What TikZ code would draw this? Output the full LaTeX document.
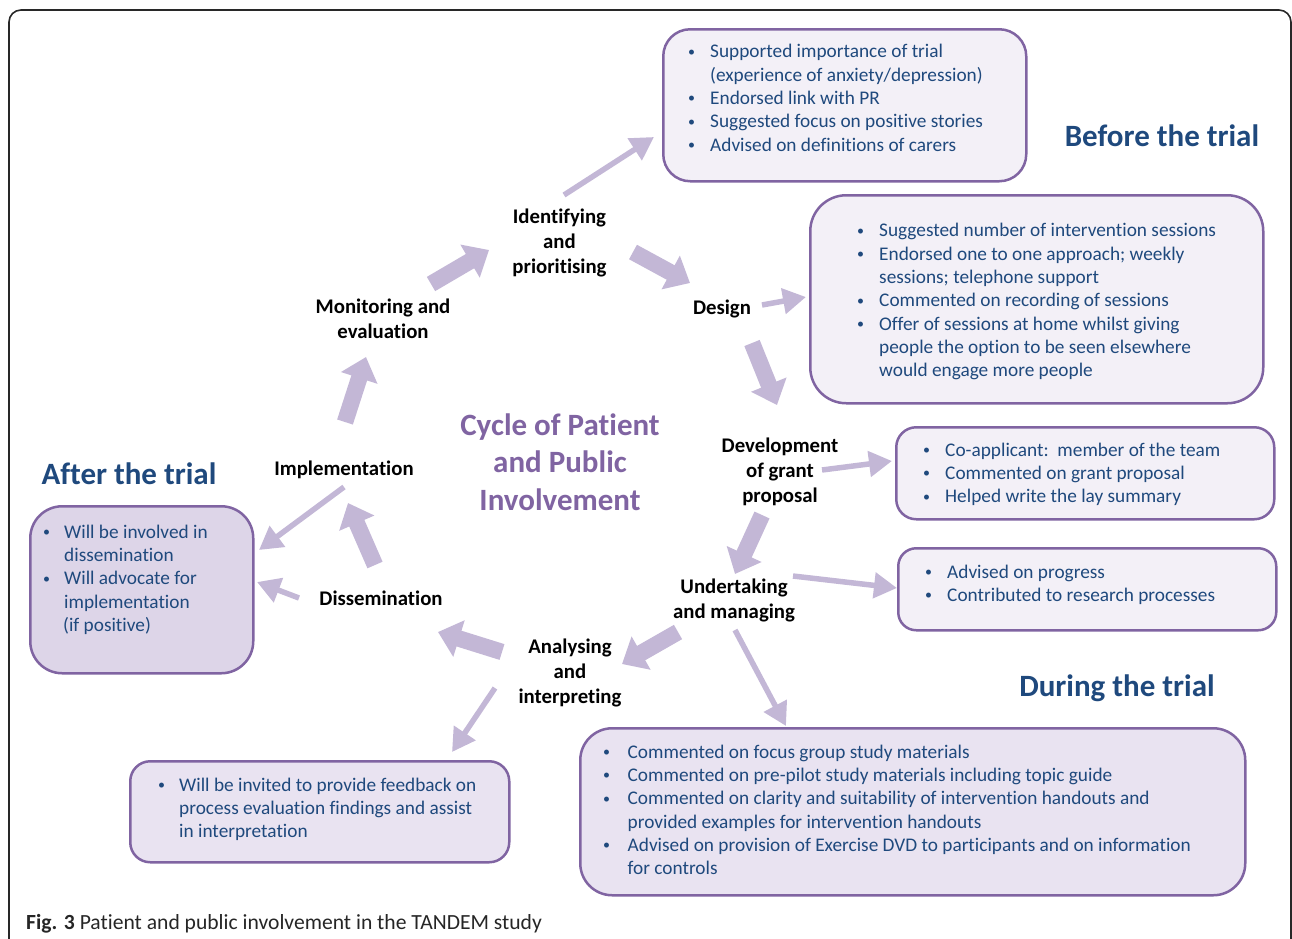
\documentclass[tikz,border=0pt]{standalone}
\usepackage{fontspec}
\setmainfont{Carlito}[Ligatures=NoCommon]
\usetikzlibrary{arrows.meta}
\definecolor{boxline}{RGB}{128,100,162}
\definecolor{txtblue}{RGB}{31,73,125}
\definecolor{fillA}{RGB}{243,240,247}
\definecolor{fillB}{RGB}{233,227,241}
\definecolor{fillC}{RGB}{221,213,232}
\definecolor{arrowc}{RGB}{195,183,214}
\definecolor{framec}{RGB}{40,40,40}
\newcommand{\bul}{\raisebox{1.6pt}{\fontsize{14}{14}\selectfont•}}
\newcommand{\bl}{\strut\makebox[22pt][l]{\bul}}
\newcommand{\ind}{\strut\hspace*{22pt}}
\begin{document}
\begin{tikzpicture}[x=1pt,y=-1pt,
  infobox/.style={draw=boxline, line width=2.5pt, anchor=north west, inner sep=0pt},
  boxtext/.style={anchor=north west, inner sep=0pt, align=left, text=txtblue,
    font=\fontsize{19.3}{23.3}\selectfont},
  steplabel/.style={align=center, inner sep=0pt, font=\bfseries\fontsize{20.8}{25}\selectfont},
  phase/.style={anchor=base, inner sep=0pt, text=txtblue, font=\bfseries\fontsize{31}{37}\selectfont},
  bigarrow/.style={draw=arrowc, line width=16.5pt, -{Triangle[width=37pt,length=22pt]}},
  thinarrow/.style={draw=arrowc, line width=5.5pt, -{Triangle[width=25pt,length=23pt]}}]
\useasboundingbox (0,0) rectangle (1292,938);
\begin{scope}
\clip (0,0) rectangle (1292,938);
\draw[framec, line width=1.6pt, rounded corners=12pt] (9,960) -- (9,10) -- (1291,10) -- (1291,960);
\end{scope}

% boxes
\node[infobox, fill=fillA, rounded corners=27pt, minimum width=363pt, minimum height=152pt] (b1) at (662,28) {};
\node[infobox, fill=fillA, rounded corners=36pt, minimum width=453pt, minimum height=208pt] (b2) at (809,194) {};
\node[infobox, fill=fillA, rounded corners=20pt, minimum width=378pt, minimum height=92pt] (b3) at (895,426) {};
\node[infobox, fill=fillA, rounded corners=18pt, minimum width=378pt, minimum height=82pt] (b4) at (897,547) {};
\node[infobox, fill=fillC, rounded corners=32pt, minimum width=223pt, minimum height=167pt] (b5) at (29,505) {};
\node[infobox, fill=fillB, rounded corners=20pt, minimum width=379pt, minimum height=101pt] (b6) at (129,760) {};
\node[infobox, fill=fillB, rounded corners=32pt, minimum width=665pt, minimum height=167pt] (b7) at (579,727) {};

% box texts
\node[boxtext] (t1) at (688,41.4) {\bl Supported importance of trial\\\ind (experience of anxiety/depression)\\\bl Endorsed link with PR\\\bl Suggested focus on positive stories\\\bl Advised on definitions of carers};
\node[boxtext] (t2) at (857,220.4) {\bl Suggested number of intervention sessions\\\bl Endorsed one to one approach; weekly\\\ind sessions; telephone support\\\bl Commented on recording of sessions\\\bl Offer of sessions at home whilst giving\\\ind people the option to be seen elsewhere\\\ind would engage more people};
\node[boxtext] (t3) at (923,439.7) {\bl Co-applicant:\ \ member of the team\\\bl Commented on grant proposal\\\bl Helped write the lay summary};
\node[boxtext] (t4) at (925,561.7) {\bl Advised on progress\\\bl Contributed to research processes};
\node[boxtext] (t5) at (43,521.7) {\makebox[21pt][l]{\strut\bul}Will be involved in\\\strut\hspace*{21pt}dissemination\\\makebox[21pt][l]{\strut\bul}Will advocate for\\\strut\hspace*{21pt}implementation\\\strut\hspace*{20pt}(if positive)};
\node[boxtext] (t6) at (158,774.7) {\makebox[21pt][l]{\strut\bul}Will be invited to provide feedback on\\\strut\hspace*{21pt}process evaluation findings and assist\\\strut\hspace*{21pt}in interpretation};
\node[boxtext] (t7) at (603,741.7) {\makebox[24.5pt][l]{\strut\bul}Commented on focus group study materials\\\makebox[24.5pt][l]{\strut\bul}Commented on pre-pilot study materials including topic guide\\\makebox[24.5pt][l]{\strut\bul}Commented on clarity and suitability of intervention handouts and\\\strut\hspace*{24.5pt}provided examples for intervention handouts\\\makebox[24.5pt][l]{\strut\bul}Advised on provision of Exercise DVD to participants and on information\\\strut\hspace*{24.5pt}for controls};

% phase headings
\node[phase] (before) at (1162,146.5) {Before the trial};
\node[phase] (after) at (129,484.5) {After the trial};
\node[phase] (during) at (1117,696.5) {During the trial};

% title
\node[align=center, inner sep=0pt, text=boxline, font=\bfseries\fontsize{31}{37.5}\selectfont] (title) at (560,465) {\strut Cycle of Patient\\\strut and Public\\\strut Involvement};

% step labels
\node[steplabel] (ident) at (559.5,243.5) {\strut Identifying\\\strut and\\\strut prioritising};
\node[steplabel] (monit) at (383,320.5) {\strut Monitoring and\\\strut evaluation};
\node[steplabel] (design) at (722,309) {\strut Design};
\node[steplabel] (devel) at (780,472) {\strut Development\\\strut of grant\\\strut proposal};
\node[steplabel] (impl) at (344,470.5) {\strut Implementation};
\node[steplabel] (under) at (734,600.5) {\strut Undertaking\\\strut and managing};
\node[steplabel] (dissem) at (381,600.5) {\strut Dissemination};
\node[steplabel] (analys) at (570,673) {\strut Analysing\\\strut and\\\strut interpreting};

% arrow end points
\coordinate (m1) at (431,284); \coordinate (i1) at (489,250);
\coordinate (i2) at (633,252); \coordinate (d1) at (690,283);
\coordinate (d2) at (752,343); \coordinate (g1) at (777,405);
\coordinate (g2) at (762,515); \coordinate (u1) at (735,574);
\coordinate (u2) at (678,632); \coordinate (a1) at (622,664);
\coordinate (a2) at (502,652); \coordinate (s1) at (438,632);
\coordinate (s2) at (375,565); \coordinate (p1) at (348,503);
\coordinate (p2) at (345,422); \coordinate (m2) at (366,357);

\draw[bigarrow] (m1) -- (i1);
\draw[bigarrow] (i2) -- (d1);
\draw[bigarrow] (d2) -- (g1);
\draw[bigarrow] (g2) -- (u1);
\draw[bigarrow] (u2) -- (a1);
\draw[bigarrow] (a2) -- (s1);
\draw[bigarrow] (s2) -- (p1);
\draw[bigarrow] (p2) -- (m2);

% thin arrows to boxes
\coordinate (ia) at (564,195); \coordinate (b1t) at (654,137);
\coordinate (da) at (762,305); \coordinate (b2t) at (806,297);
\coordinate (ga) at (822,470); \coordinate (b3t) at (892,461);
\coordinate (ua) at (793,576); \coordinate (b4t) at (897,588);
\coordinate (ub) at (735,630); \coordinate (b7t) at (786,726);
\coordinate (pa) at (344,487); \coordinate (b5t) at (259,550);
\coordinate (sa) at (299,598); \coordinate (b5s) at (257,582);
\coordinate (aa) at (495,688); \coordinate (b6t) at (452,752);

\draw[thinarrow] (ia) -- (b1t);
\draw[thinarrow] (da) -- (b2t);
\draw[thinarrow] (ga) -- (b3t);
\draw[thinarrow] (ua) -- (b4t);
\draw[thinarrow] (ub) -- (b7t);
\draw[thinarrow] (pa) -- (b5t);
\draw[thinarrow] (sa) -- (b5s);
\draw[thinarrow] (aa) -- (b6t);

% caption
\node[anchor=base west, inner sep=0pt, font=\fontsize{21.6}{25}\selectfont, text=black!85] (cap) at (26,929) {\textbf{Fig. 3} Patient and public involvement in the TANDEM study};
\end{tikzpicture}
\end{document}
